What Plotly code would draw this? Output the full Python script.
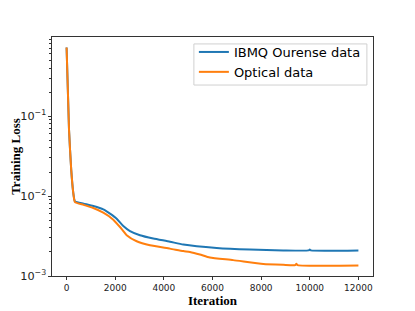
import plotly.graph_objects as go

iter_ibmq = [0, 100, 190, 275, 345, 700, 1098, 1509, 1785, 2060, 2331, 2607, 3018, 3565,
             4252, 4800, 6170, 7540, 8910, 9950, 10000, 10050, 12000]
loss_ibmq = [0.724, 0.0676, 0.0214, 0.01096, 0.00859, 0.00804, 0.00750, 0.00682, 0.00603,
             0.00521, 0.00422, 0.00365, 0.00324, 0.00295, 0.00269, 0.00247, 0.00224,
             0.00214, 0.00209, 0.00209, 0.00214, 0.00209, 0.00209]

iter_opt = [0, 100, 190, 275, 345, 700, 1098, 1509, 1920, 2196, 2471, 2882, 3429, 4252,
            4800, 5070, 5480, 5890, 6850, 8090, 8910, 9400, 9450, 9500, 12000]
loss_opt = [0.724, 0.0676, 0.0214, 0.01096, 0.00841, 0.00776, 0.00708, 0.00619, 0.00507,
            0.00410, 0.00324, 0.00272, 0.00242, 0.00220, 0.00205, 0.00200, 0.00186,
            0.00170, 0.00158, 0.00141, 0.00138, 0.00137, 0.00142, 0.00137, 0.00135]

x_ticks = [0, 2000, 4000, 6000, 8000, 10000, 12000]
x_tick_labels = ["0", "2000", "4000", "6000", "8000", "10000", "12000"]

fig = go.Figure()
fig.add_trace(go.Scatter(x=iter_ibmq, y=loss_ibmq, mode="lines", name="IBMQ Ourense data",
                         line=dict(color="#1f77b4", width=2, shape="spline", smoothing=0.5)))
fig.add_trace(go.Scatter(x=iter_opt, y=loss_opt, mode="lines", name="Optical data",
                         line=dict(color="#ff7f0e", width=2, shape="spline", smoothing=0.5)))

axis_common = dict(showgrid=False, zeroline=False, showline=True, linecolor="#333",
                   linewidth=1, mirror=True, ticks="outside", tickcolor="#333",
                   ticklen=3, tickwidth=1, automargin=False,
                   tickfont=dict(family="DejaVu Sans", size=9, color="#222"))

fig.update_xaxes(range=[-600, 12600], tickvals=x_ticks, ticktext=x_tick_labels,
                 title=dict(text="<b>Iteration</b>",
                            font=dict(family="Liberation Serif", size=13, color="black"),
                            standoff=2),
                 **axis_common)
fig.update_yaxes(type="log", range=[-3, -0.01], dtick=1, exponentformat="power",
                 minor=dict(ticks="outside", ticklen=2, tickcolor="#333", showgrid=False,
                            dtick="D1"),
                 title=dict(text="<b>Training Loss</b>",
                            font=dict(family="Liberation Serif", size=13, color="black"),
                            standoff=4),
                 **axis_common)

# legend frame (matplotlib-style box), drawn as a shape in paper coordinates
fig.add_shape(type="rect", xref="paper", yref="paper",
              x0=0.442, x1=0.981, y0=0.799, y1=0.971,
              line=dict(color="#d0d0d0", width=1), fillcolor="white", layer="below")

# page body has an 8px margin, so the figure is drawn 8px right and down
fig.update_layout(
    width=415, height=311,
    margin=dict(l=44, r=50, t=29, b=43),
    paper_bgcolor="white", plot_bgcolor="white",
    showlegend=True,
    legend=dict(x=0.442, y=1.0, xanchor="left", yanchor="top",
                bgcolor="rgba(0,0,0,0)", borderwidth=0,
                font=dict(family="DejaVu Sans", size=13, color="black"),
                tracegroupgap=0, itemwidth=30),
)

fig.write_html("out.html")
